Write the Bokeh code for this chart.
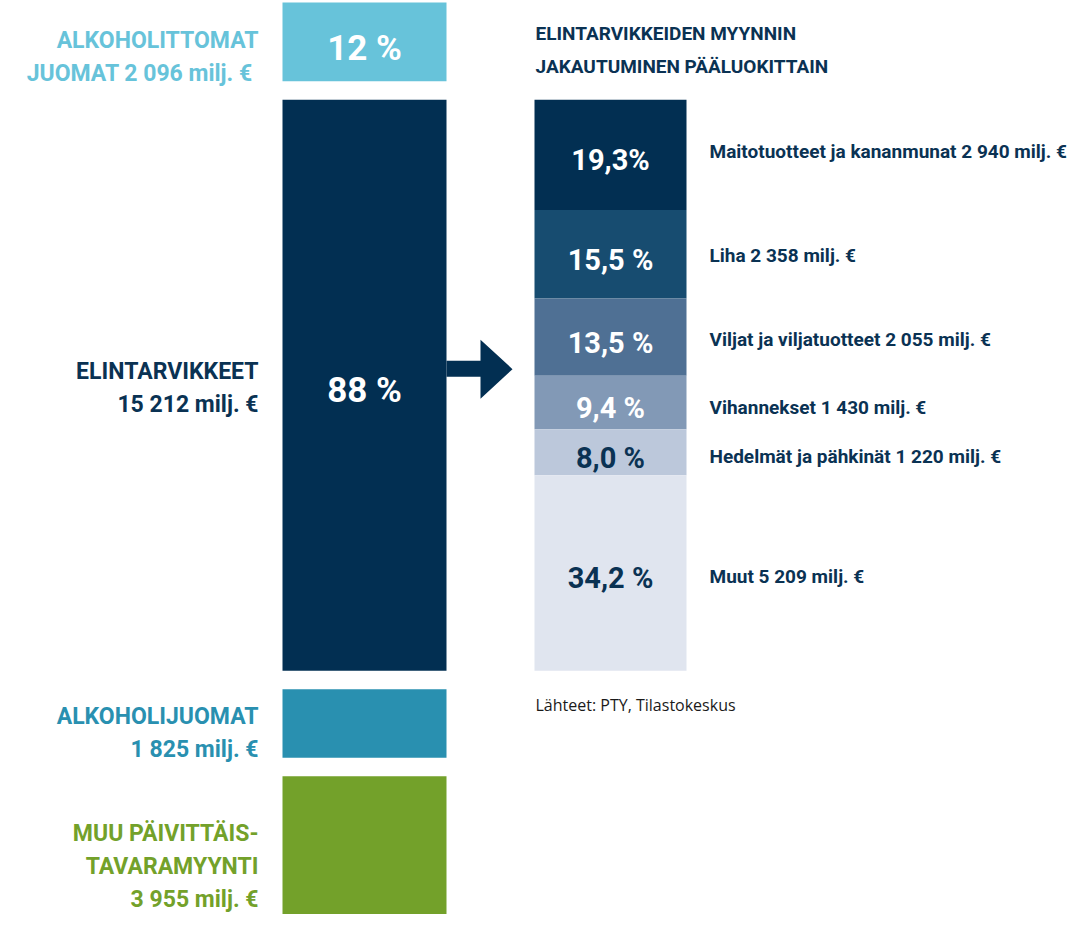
from bokeh.plotting import figure
from bokeh.models import Range1d
from bokeh.core.properties import value
from bokeh.embed import file_html
from bokeh.resources import INLINE

# ---------------- data ----------------
total_categories = ["Alkoholittomat juomat", "Elintarvikkeet", "Alkoholijuomat", "Muu päivittäistavaramyynti"]
total_values = [2096, 15212, 1825, 3955]  # milj. €
total_label_lines = [
    ["ALKOHOLITTOMAT", "JUOMAT  2 096 milj. €"],
    ["ELINTARVIKKEET", "15 212 milj. €"],
    ["ALKOHOLIJUOMAT", "1 825 milj. €"],
    ["MUU PÄIVITTÄIS-", "TAVARAMYYNTI", "3 955 milj. €"],
]
total_share_labels = ["12 %", "88 %", "", ""]

food_categories = ["Maitotuotteet ja kananmunat", "Liha", "Viljat ja viljatuotteet",
                   "Vihannekset", "Hedelmät ja pähkinät", "Muut"]
food_values = [2940, 2358, 2055, 1430, 1220, 5209]  # milj. €
food_share_labels = ["19,3%", "15,5 %", "13,5 %", "9,4 %", "8,0 %", "34,2 %"]
food_labels = [
    "Maitotuotteet ja kananmunat  2 940 milj. €",
    "Liha  2 358 milj. €",
    "Viljat ja viljatuotteet  2 055 milj. €",
    "Vihannekset  1 430 milj. €",
    "Hedelmät ja pähkinät  1 220 milj. €",
    "Muut 5 209  milj. €",
]
title_lines = ["ELINTARVIKKEIDEN MYYNNIN", "JAKAUTUMINEN PÄÄLUOKITTAIN"]
source_text = "Lähteet: PTY, Tilastokeskus"

# ---------------- style / layout ----------------
total_colors = ["#67c3da", "#022f52", "#2990b0", "#73a12a"]
total_text_colors = ["#67c3da", "#0a3253", "#2990b0", "#73a12a"]
food_colors = ["#022f52", "#174c70", "#4f7094", "#8299b6", "#bcc8db", "#e0e5ef"]
food_share_text_colors = ["#ffffff", "#ffffff", "#ffffff", "#ffffff", "#0a3253", "#0a3253"]
NAVY = "#0a3253"
FONT = "Roboto"

W, H = 1073, 914
PX = 571.0 / 15212.0          # pixels per milj. €
TOP_PX = 2                    # pixel row where the stack starts


def u(px):
    return px / PX            # pixel length -> data units


def img(py):
    return u(py - TOP_PX)     # pixel row -> data y


GAP = u(18.5)
LEFT_X0, LEFT_X1 = 282, 446
RIGHT_X0, RIGHT_X1 = 534, 686

p = figure(width=W, height=H, output_backend="svg", toolbar_location=None,
           x_range=Range1d(0, W), y_range=Range1d(img(H), img(0)),
           min_border=0, outline_line_color=None,
           x_axis_location=None, y_axis_location=None)
p.grid.visible = False
p.background_fill_color = "white"
p.border_fill_color = "white"

# ---- left column (stacked totals with gaps) ----
tops, bottoms = [], []
y = 0.0
for v in total_values:
    tops.append(y)
    bottoms.append(y + v)
    y += v + GAP
p.quad(left=[LEFT_X0] * 4, right=[LEFT_X1] * 4, top=tops, bottom=bottoms,
       fill_color=total_colors, line_color=None)

centers = [(t + b) / 2 for t, b in zip(tops, bottoms)]
share_offsets = [6.5, 5.5, 0, 0]
p.text(x=[(LEFT_X0 + LEFT_X1) / 2] * 4,
       y=[c + u(o) for c, o in zip(centers, share_offsets)],
       text=total_share_labels, text_color="white", text_font=value(FONT),
       text_font_style="bold", text_font_size="35px",
       text_align="center", text_baseline="middle")

# left labels
first_baseline = [38, 271.7, 27.7, 57]
line_gap = 33.0
lx, ly, lt, lc = [], [], [], []
for i, lines in enumerate(total_label_lines):
    for j, line in enumerate(lines):
        lx.append(258)
        ly.append(tops[i] + u(first_baseline[i] + j * line_gap))
        lt.append(line)
        lc.append(total_text_colors[i])
p.text(x=lx, y=ly, text=lt, text_color=lc, text_font=value(FONT),
       text_font_style="bold", text_font_size="23px",
       text_align="right", text_baseline="alphabetic")

# ---- arrow ----
mc = centers[1]
ax = [LEFT_X1, 480, 480, 512, 480, 480, LEFT_X1]
ay = [mc + u(-24.5), mc + u(-24.5), mc + u(-45.5), mc + u(-16),
      mc + u(13.5), mc + u(-8.5), mc + u(-8.5)]
p.patch(ax, ay, fill_color="#022f52", line_color=None)

# ---- right column (food breakdown) ----
ftops, fbots = [], []
y = tops[1]
for v in food_values:
    ftops.append(y)
    fbots.append(y + v)
    y += v
n = len(food_values)
p.quad(left=[RIGHT_X0] * n, right=[RIGHT_X1] * n, top=ftops, bottom=fbots,
       fill_color=food_colors, line_color=None)
fcent = [(t + b) / 2 for t, b in zip(ftops, fbots)]
p.text(x=[(RIGHT_X0 + RIGHT_X1) / 2] * n, y=[c + u(5.5) for c in fcent],
       text=food_share_labels, text_color=food_share_text_colors,
       text_font=value(FONT), text_font_style="bold", text_font_size="29px",
       text_align="center", text_baseline="middle")
label_offsets = [-3, 1.5, 2.5, 5, 4, 3.5]
p.text(x=[709] * n, y=[c + u(o) for c, o in zip(fcent, label_offsets)],
       text=food_labels, text_color=NAVY, text_font=value(FONT),
       text_font_style="bold", text_font_size="19px",
       text_align="left", text_baseline="middle")

# ---- title & source ----
p.text(x=[535, 535], y=[img(33), img(66)], text=title_lines,
       text_color=NAVY, text_font=value(FONT), text_font_style="bold",
       text_font_size="19px", text_align="left", text_baseline="middle")
p.text(x=[535], y=[img(704)], text=[source_text],
       text_color="#1a1a1a", text_font=value("Open Sans"),
       text_font_size="16px", text_align="left", text_baseline="middle")

open("out.html", "w").write(file_html(p, INLINE))
